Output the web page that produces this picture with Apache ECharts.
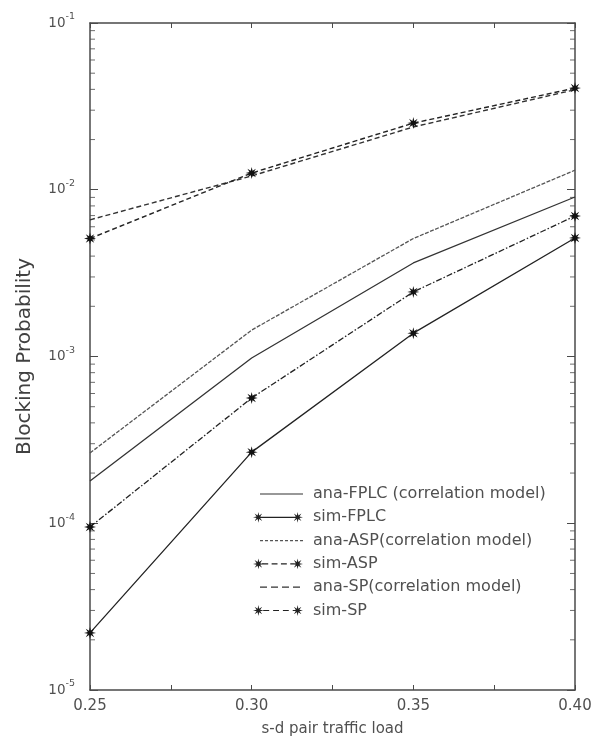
<!DOCTYPE html>
<html>
<head>
<meta charset="utf-8">
<script src="https://cdn.jsdelivr.net/npm/echarts@6/dist/echarts.min.js"></script>
<style>
	html, body { margin: 0; padding: 0; background: #fff; }
	#main { width: 595px; height: 742px; }
</style>
</head>
<body>
<div id="main"></div>
<script>
// traffic load on the x axis
var loads = [0.25, 0.30, 0.35, 0.40];

// blocking probability
var anaFPLC = [1.79e-4, 9.8e-4, 3.64e-3, 9.05e-3];
var simFPLC = [2.2e-5, 2.67e-4, 1.38e-3, 5.14e-3];
var anaASP = [2.64e-4, 1.44e-3, 5.1e-3, 1.31e-2];
var simASP = [9.5e-5, 5.64e-4, 2.44e-3, 6.96e-3];
var anaSP = [6.6e-3, 1.21e-2, 2.38e-2, 3.98e-2];
var simSP = [5.1e-3, 1.26e-2, 2.51e-2, 4.07e-2];

var seriesNames = [
	'ana-FPLC (correlation model)',
	'sim-FPLC',
	'ana-ASP(correlation model)',
	'sim-ASP',
	'ana-SP(correlation model)',
	'sim-SP'
];

// decades shown on the log axis
var decades = [-5, -4, -3, -2];

var axisColor = '#4a4a4a';
var textColor = '#505050';
var font = 'DejaVu Sans';

// eight-pointed asterisk, as path commands around (cx, cy)
function starCmd(cx, cy, r, ri) {
	var pts = [];
	for (var i = 0; i < 16; i++) {
		var rr = i % 2 == 0 ? r : ri;
		var a = Math.PI * i / 8 - Math.PI / 2;
		pts.push((cx + rr * Math.cos(a)).toFixed(2) + ' ' + (cy + rr * Math.sin(a)).toFixed(2));
	}
	return 'M' + pts.join(' L') + ' Z ';
}
var star = 'path://' + starCmd(10, 10, 10, 4);

// legend icons drawn in a 50 x 12 box
function segCmd(x0, x1) {
	return 'M' + x0 + ' 5.4 H' + x1 + ' V6.6 H' + x0 + ' Z ';
}
function dashCmd(x0, x1, on, off) {
	var s = '';
	for (var x = x0; x < x1; x += on + off) {
		s += segCmd(x, Math.min(x + on, x1));
	}
	return s;
}
var boxCmd = 'M0 0 h0.01 v0.01 h-0.01 Z M49.99 11.99 h0.01 v0.01 h-0.01 Z ';
var stars2 = starCmd(5, 6, 5.5, 2) + starCmd(45, 6, 5.5, 2);
var legendIcons = [
	'path://' + boxCmd + segCmd(7, 50),
	'path://' + boxCmd + stars2 + segCmd(5, 45),
	'path://' + boxCmd + dashCmd(7, 50, 3, 2),
	'path://' + boxCmd + stars2 + dashCmd(9, 42, 6, 3.5),
	'path://' + boxCmd + dashCmd(7, 50, 7, 4),
	'path://' + boxCmd + stars2 + dashCmd(10, 42, 6, 4)
];
var lineColors = ['#333', '#222', '#555', '#222', '#333', '#222'];

function pairs(vals) {
	return loads.map(function(x, i) {
		return [x, vals[i]];
	});
}

function lineSeries(idx, vals, type, width, withMarker) {
	return {
		name: seriesNames[idx],
		type: 'line',
		data: pairs(vals),
		symbol: withMarker ? star : 'none',
		symbolSize: 12,
		showSymbol: withMarker,
		clip: false,
		itemStyle: { color: '#111', borderWidth: 0 },
		lineStyle: { color: lineColors[idx], width: width, type: type },
		animation: false,
		z: 5
	};
}

// minor log ticks (2..9 per decade) on both vertical axes
var minorLeft = [];
var minorRight = [];
decades.forEach(function(e) {
	for (var m = 2; m <= 9; m++) {
		minorLeft.push([loads[0], m * Math.pow(10, e)]);
		minorRight.push([loads[loads.length - 1], m * Math.pow(10, e)]);
	}
});

function tickSeries(data, offset) {
	return {
		type: 'scatter',
		data: data,
		symbol: 'rect',
		symbolSize: [5, 1],
		symbolOffset: [offset, 0],
		itemStyle: { color: axisColor },
		silent: true,
		clip: false,
		animation: false,
		z: 3
	};
}

var myChart = echarts.init(document.getElementById('main'));

var option = {
	backgroundColor: '#fff',
	grid: {
		left: 90,
		right: 20,
		top: 23,
		bottom: 52
	},
	legend: {
		orient: 'vertical',
		left: 253,
		top: 486,
		padding: 0,
		itemWidth: 50,
		itemHeight: 12,
		itemGap: 7.3,
		data: seriesNames.map(function(n, i) {
			return {
				name: n,
				icon: legendIcons[i],
				itemStyle: { color: lineColors[i], borderWidth: 0 }
			};
		}),
		textStyle: {
			color: textColor,
			fontFamily: font,
			fontSize: 16,
			lineHeight: 16,
			padding: [0, 0, 0, 5]
		}
	},
	xAxis: [{
		type: 'value',
		min: 0.25,
		max: 0.40,
		interval: 0.025,
		name: 's-d pair traffic load',
		nameLocation: 'middle',
		nameGap: 32,
		nameTextStyle: { color: textColor, fontFamily: font, fontSize: 15 },
		axisLine: { lineStyle: { color: axisColor, width: 1.5 } },
		axisTick: { inside: true, length: 5, lineStyle: { color: axisColor } },
		axisLabel: {
			color: textColor,
			fontFamily: font,
			fontSize: 15,
			margin: 9,
			formatter: function(v) {
				var k = Math.round(v * 1000);
				return k % 50 == 0 ? v.toFixed(2) : '';
			}
		},
		splitLine: { show: false }
	}, {
		type: 'value',
		position: 'top',
		min: 0.25,
		max: 0.40,
		interval: 0.025,
		axisLine: { lineStyle: { color: axisColor, width: 1.5 } },
		axisTick: { inside: true, length: 5, lineStyle: { color: axisColor } },
		axisLabel: { show: false },
		splitLine: { show: false }
	}],
	yAxis: [{
		type: 'log',
		logBase: 10,
		min: 1e-5,
		max: 1e-1,
		name: 'Blocking Probability',
		nameLocation: 'middle',
		nameGap: 55,
		nameTextStyle: { color: '#404040', fontFamily: font, fontSize: 20 },
		axisLine: { lineStyle: { color: axisColor, width: 1.5 } },
		axisTick: { inside: true, length: 8, lineStyle: { color: axisColor } },
		axisLabel: {
			margin: 15,
			formatter: function(v) {
				var e = Math.round(Math.log(v) / Math.LN10);
				return '{b|10}{s|' + e + '}';
			},
			rich: {
				b: { color: textColor, fontFamily: font, fontSize: 13.5 },
				s: { color: textColor, fontFamily: font, fontSize: 9.5, padding: [0, 0, 12, 0] }
			}
		},
		splitLine: { show: false }
	}, {
		type: 'log',
		logBase: 10,
		min: 1e-5,
		max: 1e-1,
		position: 'right',
		axisLine: { lineStyle: { color: axisColor, width: 1.5 } },
		axisTick: { inside: true, length: 8, lineStyle: { color: axisColor } },
		axisLabel: { show: false },
		splitLine: { show: false }
	}],
	series: [
		lineSeries(0, anaFPLC, 'solid', 1.3, false),
		lineSeries(1, simFPLC, 'solid', 1.3, true),
		lineSeries(2, anaASP, [4, 1.5], 1.3, false),
		lineSeries(3, simASP, [6, 2, 1.5, 2], 1.3, true),
		lineSeries(4, anaSP, [5, 3], 1.4, false),
		lineSeries(5, simSP, [5, 3], 1.4, true),
		tickSeries(minorLeft, 2.5),
		tickSeries(minorRight, -2.5)
	]
};

myChart.setOption(option);
</script>
</body>
</html>
